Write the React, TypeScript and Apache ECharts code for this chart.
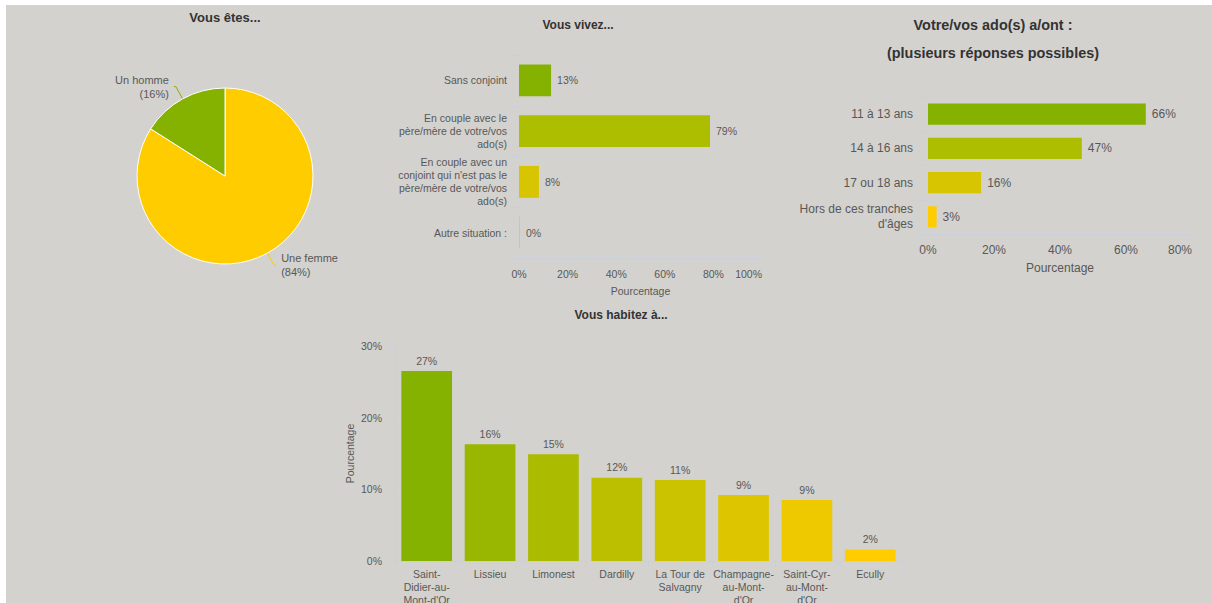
import React, { useEffect, useRef } from "react";
import * as echarts from "echarts";

const FONT = "'Liberation Sans', Arial, sans-serif";
const TEXT = "#585858";
const AXIS = "#c9cfdc";

// Pie: "Vous êtes..."
const sexNames = ["Une femme", "Un homme"];
const sexValues = [84, 16];
const sexColors = ["#ffcc00", "#85b200"];

// "Vous vivez..."
const liveCats = [
  "Sans conjoint",
  "En couple avec le\npère/mère de votre/vos\nado(s)",
  "En couple avec un\nconjoint qui n'est pas le\npère/mère de votre/vos\nado(s)",
  "Autre situation :",
];
const liveValues = [13.2, 78.6, 8.2, 0];
const liveColors = ["#85b200", "#adbd00", "#d6c500", "#ffcc00"];
const liveTicks = [0, 100, 20];

// "Votre/vos ado(s) a/ont :"
const ageCats = ["11 à 13 ans", "14 à 16 ans", "17 ou 18 ans", "Hors de ces tranches\nd'âges"];
const ageValues = [66, 46.6, 16.1, 2.6];
const ageColors = ["#85b200", "#adbd00", "#d6c500", "#ffcc00"];
const ageTicks = [0, 80, 20];

// "Vous habitez à..."
const townCats = [
  "Saint-\nDidier-au-\nMont-d'Or",
  "Lissieu",
  "Limonest",
  "Dardilly",
  "La Tour de\nSalvagny",
  "Champagne-\nau-Mont-\nd'Or",
  "Saint-Cyr-\nau-Mont-\nd'Or",
  "Ecully",
];
const townValues = [26.5, 16.3, 14.9, 11.6, 11.3, 9.2, 8.5, 1.6];
const townColors = ["#85b200", "#99b700", "#aabb00", "#bbbf00", "#ccc300", "#ddc600", "#eec900", "#ffcc00"];
const townTicks = [0, 30, 10];

const pct = (p: any) => Math.round(p.value) + "%";

export default function App() {
  const ref = useRef<HTMLDivElement>(null);
  useEffect(() => {
    if (!ref.current) return;
    const chart = echarts.init(ref.current, undefined, { renderer: "svg" });
    const titleStyle = (size: number) => ({
      fontSize: size,
      fontWeight: "bold" as const,
      color: "#333333",
      fontFamily: FONT,
    });
    chart.setOption({
      animation: false,
      backgroundColor: "#d3d2ce",
      textStyle: { fontFamily: FONT },
      graphic: [
        { type: "rect", shape: { x: 0, y: 0, width: 1212, height: 5 }, style: { fill: "#ffffff" } },
        { type: "rect", shape: { x: 0, y: 0, width: 6, height: 603 }, style: { fill: "#ffffff" } },
      ],
      title: [
        { text: "Vous êtes...", left: 225, top: 11, textAlign: "center", padding: 0, textStyle: titleStyle(13) },
        { text: "Vous vivez...", left: 578, top: 19, textAlign: "center", padding: 0, textStyle: titleStyle(12) },
        {
          text: "Votre/vos ado(s) a/ont :\n(plusieurs réponses possibles)",
          left: 993,
          top: 11,
          textAlign: "center",
          padding: 0,
          textStyle: { ...titleStyle(14.4), lineHeight: 28 },
        },
        { text: "Vous habitez à...", left: 621, top: 309, textAlign: "center", padding: 0, textStyle: titleStyle(12) },
      ],
      grid: [
        { left: 519, top: 55, width: 243, height: 203, outerBoundsMode: "none", containLabel: false },
        { left: 928, top: 97, width: 264, height: 137, outerBoundsMode: "none", containLabel: false },
        { left: 395, top: 346, width: 507, height: 215, outerBoundsMode: "none", containLabel: false },
      ],
      xAxis: [
        {
          type: "value",
          gridIndex: 0,
          min: liveTicks[0],
          max: liveTicks[1],
          interval: liveTicks[2],
          axisLine: { show: true, lineStyle: { color: AXIS } },
          axisTick: { show: false },
          splitLine: { show: false },
          axisLabel: { formatter: "{value}%", color: TEXT, fontSize: 10.5, margin: 10, alignMaxLabel: "right" },
          name: "Pourcentage",
          nameLocation: "middle",
          nameGap: 27,
          nameTextStyle: { color: TEXT, fontSize: 10.5 },
        },
        {
          type: "value",
          gridIndex: 1,
          min: ageTicks[0],
          max: ageTicks[1],
          interval: ageTicks[2],
          axisLine: { show: true, lineStyle: { color: AXIS } },
          axisTick: { show: false },
          splitLine: { show: false },
          axisLabel: { formatter: "{value}%", color: TEXT, fontSize: 12, margin: 10, alignMaxLabel: "right" },
          name: "Pourcentage",
          nameLocation: "middle",
          nameGap: 28,
          nameTextStyle: { color: TEXT, fontSize: 12 },
        },
        {
          type: "category",
          gridIndex: 2,
          data: townCats,
          axisLine: { show: true, lineStyle: { color: AXIS } },
          axisTick: { show: true, length: 6, lineStyle: { color: AXIS } },
          axisLabel: { color: TEXT, fontSize: 10.5, lineHeight: 13, margin: 6, interval: 0 },
        },
      ],
      yAxis: [
        {
          type: "category",
          gridIndex: 0,
          inverse: true,
          data: liveCats,
          axisLine: { show: false },
          axisTick: { show: true, length: 7, lineStyle: { color: AXIS } },
          axisLabel: { color: TEXT, fontSize: 10.5, lineHeight: 13, margin: 12, align: "right" },
        },
        {
          type: "category",
          gridIndex: 1,
          inverse: true,
          data: ageCats,
          axisLine: { show: false },
          axisTick: { show: true, length: 10, lineStyle: { color: AXIS } },
          axisLabel: { color: TEXT, fontSize: 12, lineHeight: 15, margin: 15, align: "right" },
        },
        {
          type: "value",
          gridIndex: 2,
          min: townTicks[0],
          max: townTicks[1],
          interval: townTicks[2],
          axisLine: { show: true, lineStyle: { color: AXIS } },
          axisTick: { show: true, length: 7, lineStyle: { color: AXIS } },
          splitLine: { show: false },
          axisLabel: { formatter: "{value}%", color: TEXT, fontSize: 10.5, margin: 13 },
          name: "Pourcentage",
          nameLocation: "middle",
          nameGap: 40,
          nameRotate: 90,
          nameTextStyle: { color: TEXT, fontSize: 10.5 },
        },
      ],
      series: [
        {
          type: "pie",
          center: [225, 176],
          radius: 88,
          startAngle: 90,
          clockwise: true,
          silent: true,
          itemStyle: { borderColor: "#ffffff", borderWidth: 1 },
          label: {
            show: true,
            position: "outside",
            formatter: (p: any) => p.name + "\n(" + p.value + "%)",
            color: TEXT,
            fontSize: 11,
            lineHeight: 14,
          },
          labelLine: { show: true, length: 14, length2: 2, lineStyle: { width: 1 } },
          data: sexNames.map((n, i) => ({
            name: n,
            value: sexValues[i],
            itemStyle: { color: sexColors[i] },
            labelLine: { lineStyle: { color: sexColors[i] } },
          })),
        },
        {
          type: "bar",
          xAxisIndex: 0,
          yAxisIndex: 0,
          barCategoryGap: "37%",
          barMinHeight: 1,
          silent: true,
          label: { show: true, position: "right", distance: 6, color: TEXT, fontSize: 10.5, formatter: pct },
          data: liveValues.map((v, i) => ({ value: v, itemStyle: { color: liveColors[i] } })),
        },
        {
          type: "bar",
          xAxisIndex: 1,
          yAxisIndex: 1,
          barCategoryGap: "38%",
          silent: true,
          label: { show: true, position: "right", distance: 6, color: TEXT, fontSize: 12, formatter: pct },
          data: ageValues.map((v, i) => ({ value: v, itemStyle: { color: ageColors[i] } })),
        },
        {
          type: "bar",
          xAxisIndex: 2,
          yAxisIndex: 2,
          barCategoryGap: "20%",
          silent: true,
          label: { show: true, position: "top", distance: 5, color: TEXT, fontSize: 10.5, formatter: pct },
          data: townValues.map((v, i) => ({ value: v, itemStyle: { color: townColors[i] } })),
        },
      ],
    });
    return () => chart.dispose();
  }, []);
  return (
    <div
      ref={ref}
      style={{ position: "fixed", left: 0, top: 0, width: 1212, height: 603 }}
    />
  );
}
